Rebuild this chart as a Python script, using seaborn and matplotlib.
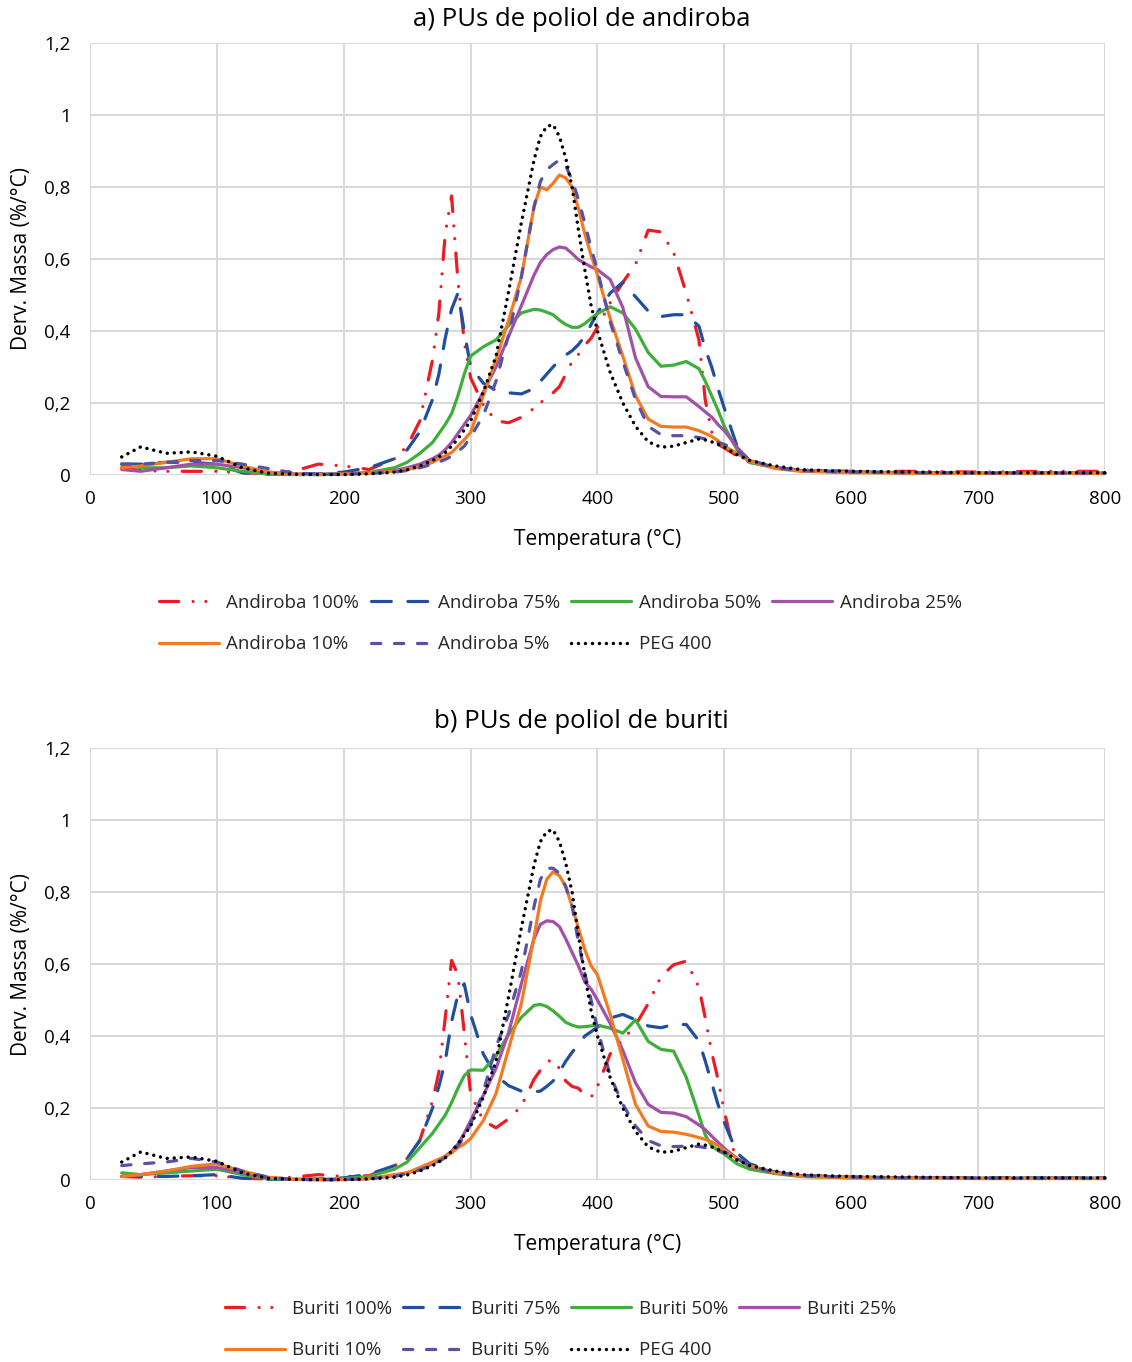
import matplotlib
matplotlib.use("Agg")
import matplotlib.pyplot as plt
from matplotlib.ticker import MultipleLocator, FuncFormatter
import pandas as pd
import seaborn as sns

# temperature grid (°C) shared by every curve
temp = [25, 40, 60, 80, 100, 120, 140, 160, 180, 200,
        220, 240, 250, 260, 270, 275, 280, 285, 290, 295,
        300, 310, 320, 330, 340, 350, 355, 360, 365, 370,
        375, 380, 385, 390, 395, 400, 410, 420, 430, 440,
        450, 460, 470, 480, 485, 490, 495, 500, 510, 520,
        540, 560, 580, 600, 650, 700, 750, 800]

# a) andiroba polyol PUs - DTG (%/°C)
andiroba_100 = [.020, .012, .010, .010, .010, .006, .004, .010, .030, .025,
                .015, .045, .080, .150, .320, .450, .670, .775, .540, .370,
                .270, .195, .150, .145, .160, .185, .200, .215, .228, .245,
                .280, .315, .335, .360, .380, .410, .478, .535, .585, .680,
                .675, .618, .505, .375, .207, .120, .085, .075, .053, .035,
                .020, .014, .012, .010, .010, .008, .010, .010]
andiroba_75 = [.030, .030, .035, .035, .030, .006, .002, .002, .003, .008,
               .020, .045, .070, .120, .210, .280, .380, .460, .505, .400,
               .300, .255, .235, .228, .225, .240, .260, .280, .300, .318,
               .333, .345, .362, .385, .418, .450, .505, .535, .495, .455,
               .440, .445, .445, .413, .350, .300, .240, .185, .080, .035,
               .020, .012, .010, .008, .006, .005, .005, .005]
andiroba_50 = [.030, .020, .020, .025, .020, .010, .003, .001, .001, .003,
               .007, .020, .035, .060, .090, .115, .140, .170, .220, .280,
               .330, .356, .375, .415, .450, .460, .458, .452, .445, .430,
               .418, .410, .410, .420, .435, .448, .467, .450, .405, .340,
               .302, .305, .315, .295, .260, .220, .180, .135, .070, .035,
               .020, .012, .010, .008, .006, .005, .005, .005]
andiroba_25 = [.015, .010, .020, .030, .030, .020, .008, .003, .002, .003,
               .005, .012, .020, .030, .045, .055, .070, .090, .115, .140,
               .165, .230, .300, .385, .470, .555, .590, .612, .626, .633,
               .630, .615, .598, .588, .578, .570, .543, .465, .325, .245,
               .218, .217, .217, .190, .175, .161, .140, .123, .077, .040,
               .020, .012, .010, .008, .006, .005, .005, .005]
andiroba_10 = [.020, .025, .035, .045, .045, .025, .008, .002, .001, .002,
               .005, .010, .015, .022, .035, .045, .053, .062, .080, .098,
               .118, .220, .320, .430, .550, .745, .800, .792, .810, .833,
               .825, .800, .740, .670, .610, .555, .435, .330, .220, .155,
               .135, .133, .133, .123, .115, .107, .095, .080, .060, .038,
               .018, .010, .008, .006, .005, .004, .004, .004]
andiroba_5 = [.030, .030, .035, .040, .040, .030, .018, .006, .002, .002,
              .004, .008, .012, .020, .030, .036, .043, .052, .065, .080,
              .105, .165, .260, .390, .550, .745, .815, .848, .862, .875,
              .858, .820, .765, .700, .630, .568, .425, .315, .210, .135,
              .112, .109, .109, .104, .100, .097, .090, .085, .067, .042,
              .020, .012, .010, .008, .006, .005, .005, .005]

# b) buriti polyol PUs
buriti_100 = [.010, .008, .010, .012, .012, .005, .003, .008, .015, .010,
              .012, .040, .060, .110, .220, .300, .450, .610, .570, .410,
              .240, .165, .145, .170, .205, .280, .305, .330, .332, .310,
              .275, .260, .255, .235, .230, .260, .350, .390, .430, .490,
              .565, .598, .608, .535, .450, .355, .280, .190, .042, .038,
              .020, .012, .010, .008, .006, .006, .006, .006]
buriti_75 = [.010, .010, .010, .012, .015, .005, .002, .002, .003, .006,
             .016, .040, .060, .110, .200, .260, .330, .440, .515, .545,
             .460, .350, .290, .262, .247, .245, .247, .260, .275, .300,
             .330, .355, .375, .400, .412, .425, .450, .460, .445, .428,
             .423, .432, .432, .386, .330, .270, .210, .160, .075, .045,
             .022, .012, .010, .008, .006, .006, .006, .006]
buriti_50 = [.020, .015, .020, .025, .030, .015, .004, .002, .002, .004,
             .010, .030, .050, .090, .130, .155, .180, .215, .255, .290,
             .306, .305, .345, .405, .452, .485, .488, .482, .470, .455,
             .438, .430, .425, .426, .428, .430, .422, .408, .445, .385,
             .363, .358, .285, .180, .125, .095, .082, .072, .045, .030,
             .018, .010, .008, .006, .005, .005, .005, .005]
buriti_25 = [.010, .015, .025, .035, .035, .020, .006, .002, .001, .002,
             .004, .012, .020, .030, .045, .055, .066, .080, .100, .130,
             .165, .235, .310, .410, .545, .670, .710, .720, .718, .704,
             .670, .632, .595, .550, .530, .500, .435, .360, .270, .210,
             .188, .186, .176, .153, .140, .122, .105, .088, .060, .038,
             .020, .012, .010, .008, .006, .005, .005, .005]
buriti_10 = [.010, .015, .025, .038, .045, .025, .008, .002, .001, .001,
             .004, .015, .020, .035, .050, .058, .066, .075, .090, .100,
             .115, .165, .240, .365, .490, .675, .775, .835, .856, .845,
             .815, .760, .700, .640, .595, .570, .460, .335, .210, .150,
             .135, .133, .127, .118, .113, .106, .095, .083, .060, .040,
             .020, .010, .008, .006, .005, .004, .004, .004]
buriti_5 = [.040, .045, .050, .060, .050, .025, .008, .002, .001, .001,
            .004, .010, .018, .028, .042, .052, .062, .075, .095, .120,
            .155, .245, .370, .460, .580, .760, .835, .866, .866, .852,
            .815, .760, .660, .575, .500, .420, .290, .210, .150, .110,
            .095, .093, .094, .093, .090, .086, .082, .078, .060, .040,
            .020, .012, .010, .008, .006, .005, .005, .005]

# reference PEG 400 (same curve in both panels)
peg400 = [.050, .078, .060, .064, .052, .020, .005, .002, .001, .001,
          .003, .008, .014, .025, .040, .050, .062, .080, .100, .125,
          .150, .230, .330, .510, .700, .875, .940, .968, .973, .940,
          .880, .800, .680, .570, .470, .400, .285, .200, .135, .092,
          .077, .080, .090, .100, .097, .092, .085, .077, .056, .040,
          .025, .015, .012, .010, .008, .006, .006, .006]

labels_a = ["Andiroba 100%", "Andiroba 75%", "Andiroba 50%", "Andiroba 25%",
            "Andiroba 10%", "Andiroba 5%", "PEG 400"]
labels_b = ["Buriti 100%", "Buriti 75%", "Buriti 50%", "Buriti 25%",
            "Buriti 10%", "Buriti 5%", "PEG 400"]

df_a = pd.DataFrame(dict(zip(["temp"] + labels_a,
                             [temp, andiroba_100, andiroba_75, andiroba_50,
                              andiroba_25, andiroba_10, andiroba_5, peg400])))
df_b = pd.DataFrame(dict(zip(["temp"] + labels_b,
                             [temp, buriti_100, buriti_75, buriti_50,
                              buriti_25, buriti_10, buriti_5, peg400])))

# line looks, same order as the labels
styles = [
    dict(color="#ec1c24", lw=2.3, ls=(0, (6, 4.5, 0.01, 4, 0.01, 4.5))),
    dict(color="#1f4f9e", lw=2.3, ls=(0, (6.2, 5.2))),
    dict(color="#3fae3a", lw=2.3, ls="-"),
    dict(color="#a151a8", lw=2.3, ls="-"),
    dict(color="#f37a20", lw=2.3, ls="-"),
    dict(color="#5753a4", lw=2.3, ls=(0, (2.9, 4.3))),
    dict(color="#000000", lw=2.5, ls=(0, (0.01, 2.0))),
]

sns.set_theme(style="whitegrid")
plt.rcParams["font.family"] = ["Open Sans", "DejaVu Sans"]

fig = plt.figure(figsize=(11.32, 13.62), dpi=100)
ax_a = fig.add_axes([0.0795, 0.6513, 0.8966, 0.3172])
ax_b = fig.add_axes([0.0795, 0.1336, 0.8966, 0.3172])


def comma(v, pos):
    return ("%g" % round(v, 1)).replace(".", ",")


def draw_panel(ax, df, labels, title, title_y, legend_y):
    handles = []
    for label, st in zip(labels, styles):
        sns.lineplot(data=df, x="temp", y=label, ax=ax, color=st["color"],
                     linewidth=st["lw"], linestyle=st["ls"], legend=False,
                     estimator=None, sort=False, clip_on=False,
                     dash_capstyle="round", solid_capstyle="round")
        handles.append(ax.lines[-1])

    ax.set_xlim(0, 800)
    ax.set_ylim(0, 1.2)
    ax.xaxis.set_major_locator(MultipleLocator(100))
    ax.yaxis.set_major_locator(MultipleLocator(0.2))
    ax.yaxis.set_major_formatter(FuncFormatter(comma))
    ax.grid(True, color="#d9d9d9", linewidth=1.5)
    for sp in ax.spines.values():
        sp.set_visible(False)
    ax.tick_params(axis="x", length=0, pad=11, labelsize=13.5, labelcolor="black")
    ax.tick_params(axis="y", length=0, pad=14, labelsize=13.5, labelcolor="black")

    ax.set_xlabel("Temperatura (°C)", fontsize=15, color="black")
    ax.xaxis.set_label_coords(0.5, -0.15)
    ax.xaxis.label.set_va("center")
    ax.set_ylabel("Derv. Massa (%/°C)", fontsize=15, color="black")
    ax.yaxis.set_label_coords(-0.067, 0.5)
    ax.yaxis.label.set_va("center")

    fig.text(0.514, title_y, title, ha="center", va="center", fontsize=18.5,
             color="black")

    # legend is filled column by column, so reorder to get two rows
    order = [0, 4, 1, 5, 2, 6, 3]
    fig.legend([handles[i] for i in order], [labels[i] for i in order],
               loc="center", bbox_to_anchor=(0.495, legend_y), ncol=4,
               frameon=False, fontsize=13.5, handlelength=3.2,
               handletextpad=0.4, columnspacing=0.6, labelspacing=1.25)


draw_panel(ax_a, df_a, labels_a, "a) PUs de poliol de andiroba", 0.986, 0.5422)
draw_panel(ax_b, df_b, labels_b, "b) PUs de poliol de buriti", 0.470, 0.0239)

fig.savefig("out.png", dpi=100)
